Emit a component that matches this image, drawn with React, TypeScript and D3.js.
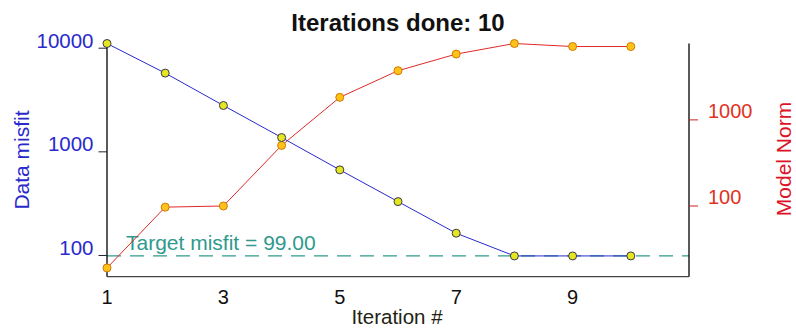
import React from "react";
import * as d3 from "d3";

const iterations = [1, 2, 3, 4, 5, 6, 7, 8, 9, 10];
const dataMisfit = [11100, 5750, 2800, 1374, 670, 331, 164, 99, 99, 99];
const modelNorm = [19.1, 97, 100, 505, 1828, 3724, 5810, 7710, 7110, 7110];
const leftTicks = [100, 1000, 10000];
const rightTicks = [100, 1000];
const xTicks = [1, 3, 5, 7, 9];
const targetMisfit = 99;
const titleText = "Iterations done: 10";

const W = 796;
const H = 333;
const FONT = "'Liberation Sans', Arial, sans-serif";

export default function App() {
  const x0 = 107, x1 = 689, yTop = 43.5, yBot = 276.7;
  const x = d3.scaleLinear().domain([1, 11]).range([x0, x1]);
  const yL = d3.scaleLog().domain([62.4, 11100]).range([yBot, yTop]);
  const yR = d3.scaleLog().domain([15.1, 7710]).range([yBot, yTop]);

  const lineL = d3.line<number>().x((_, i) => x(iterations[i])).y((d) => yL(d));
  const lineR = d3.line<number>().x((_, i) => x(iterations[i])).y((d) => yR(d));

  const blue = "#2a2acc";
  const red = "#e02a2a";
  const teal = "#2f9a8c";

  return (
    <svg width={W} height={H} style={{ position: "absolute", left: 0, top: 0, background: "#fff" }} fontFamily={FONT}>
      <rect x={0} y={0} width={W} height={H} fill="#fff" />
      {/* title */}
      <text x={398} y={30.7} textAnchor="middle" fontSize={24} fontWeight="bold" fill="#111">{titleText}</text>

      {/* target line */}
      <line x1={x0} x2={x1} y1={yL(targetMisfit)} y2={yL(targetMisfit)} stroke={teal} strokeWidth={1.2} strokeDasharray="14,9" />
      <text x={126} y={250} fontSize={21} fill={teal}>{`Target misfit = ${targetMisfit.toFixed(2)}`}</text>

      {/* axes */}
      <line x1={x0} x2={x0} y1={yTop} y2={yBot} stroke="#000" strokeWidth={1.3} />
      <line x1={x1} x2={x1} y1={yTop} y2={yBot} stroke="#000" strokeWidth={1.3} />
      <line x1={x0} x2={x1} y1={yBot} y2={yBot} stroke="#444" strokeWidth={1.3} />

      {/* left ticks */}
      {leftTicks.map((t) => (
        <g key={"l" + t}>
          <line x1={x0 - 8.5} x2={x0} y1={yL(t)} y2={yL(t)} stroke="#223" strokeWidth={1} />
          <text x={93.5} y={yL(t) - 0.5} textAnchor="end" fontSize={20.5} fill={blue}>{t}</text>
        </g>
      ))}
      {/* right ticks */}
      {rightTicks.map((t) => (
        <g key={"r" + t}>
          <line x1={x1} x2={x1 + 9} y1={yR(t)} y2={yR(t)} stroke="#c22" strokeWidth={1} />
          <text x={708} y={yR(t) - 2} fontSize={20} fill="#e0321e">{t}</text>
        </g>
      ))}
      {/* x ticks */}
      {xTicks.map((t) => (
        <text key={"x" + t} x={x(t)} y={303.5} textAnchor="middle" fontSize={20} fill="#111">{t}</text>
      ))}

      {/* axis titles */}
      <text x={397} y={324} textAnchor="middle" fontSize={20.5} fill="#221">Iteration #</text>
      <text transform={`translate(28.5,160) rotate(-90)`} textAnchor="middle" fontSize={21} fill={blue}>Data misfit</text>
      <text transform={`translate(791,159) rotate(-90)`} textAnchor="middle" fontSize={21} fill="#dd1428">Model Norm</text>

      {/* series */}
      <path d={lineR(modelNorm) || ""} fill="none" stroke={red} strokeWidth={1} />
      <path d={lineL(dataMisfit) || ""} fill="none" stroke={blue} strokeWidth={1} />
      {modelNorm.map((v, i) => (
        <circle key={"rm" + i} cx={x(iterations[i])} cy={yR(v)} r={4} fill="#ffc21a" stroke="#d07a00" strokeWidth={1} />
      ))}
      {dataMisfit.map((v, i) => (
        <circle key={"bm" + i} cx={x(iterations[i])} cy={yL(v)} r={4} fill="#e6e61e" stroke="#3a3a50" strokeWidth={1} />
      ))}
    </svg>
  );
}
